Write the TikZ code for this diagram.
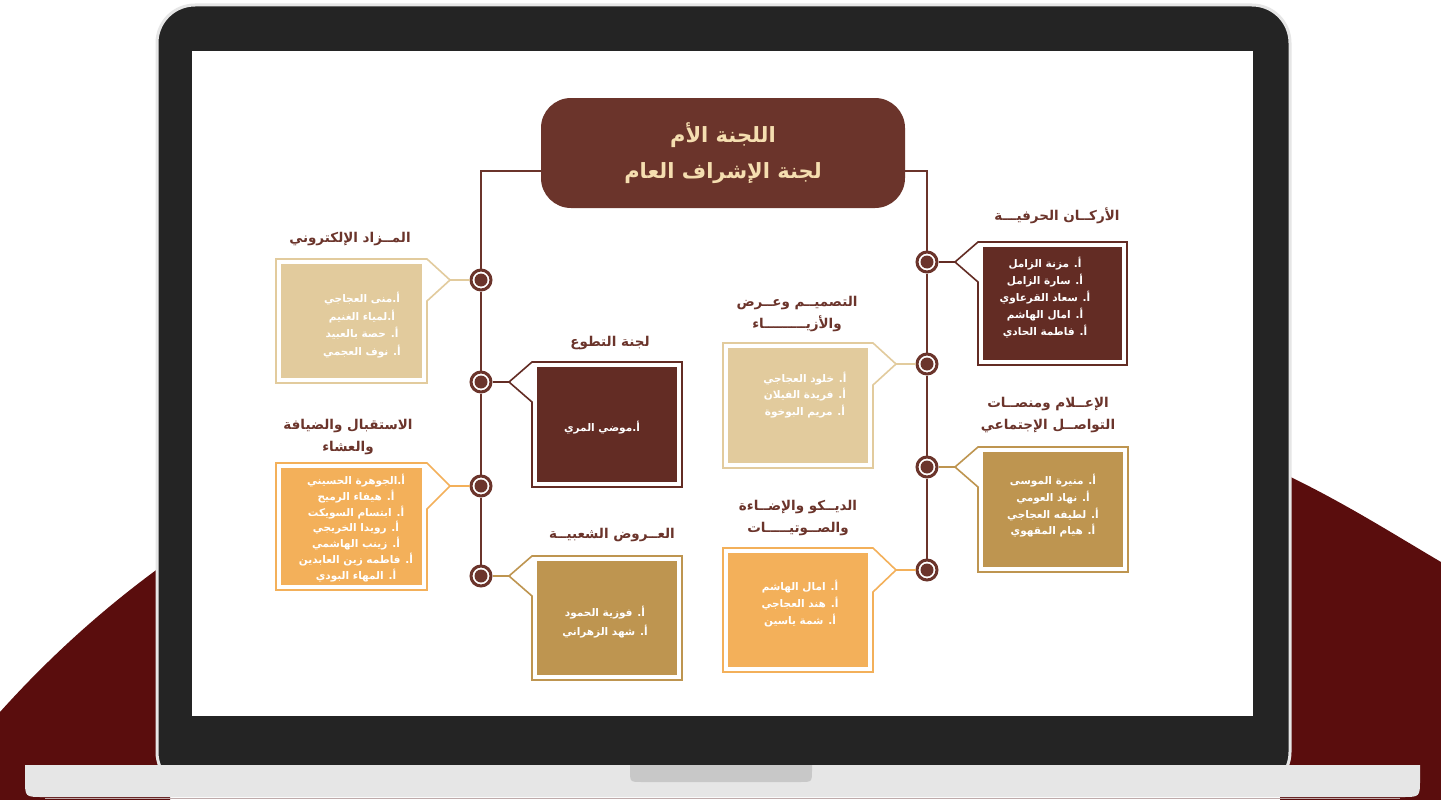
\documentclass[tikz,border=0pt]{standalone}
\usepackage{fontspec}
\newfontfamily\arabicfont[Script=Arabic]{DejaVu Sans}
\TeXXeTstate=1
\newcommand\rtxt[1]{\beginR #1\endR}
\definecolor{brn}{RGB}{107,52,43}
\definecolor{dbrn}{RGB}{99,44,36}
\definecolor{beige}{RGB}{226,203,157}
\definecolor{orng}{RGB}{243,176,90}
\definecolor{gold}{RGB}{190,149,80}
\definecolor{cream}{RGB}{245,222,176}
\definecolor{bgred}{RGB}{90,13,13}
\definecolor{bez}{RGB}{36,36,36}
\definecolor{basec}{RGB}{230,230,230}
\definecolor{notchc}{RGB}{200,200,200}
\tikzset{
  ttl/.style={font=\arabicfont\bfseries\fontsize{13.5}{22}\selectfont, text=brn, align=center, inner sep=0pt},
  names/.style={font=\arabicfont\bfseries\fontsize{10.5}{#1}\selectfont, text=white, align=center, inner sep=0pt},
  dot/.style={circle, draw=brn, line width=3pt, fill=white, minimum size=20pt, inner sep=0pt,
    path picture={\fill[brn] (path picture bounding box.center) circle (6.5pt);}},
  lnk/.style={line width=2.2pt, draw=brn},
  frame/.style={line width=1.6pt, draw=#1},
  hdrbox/.style={rounded corners=30pt, fill=brn, minimum width=364pt, minimum height=110pt,
    text=cream, align=center, font=\arabicfont\bfseries\fontsize{21}{36}\selectfont}
}
% callout with notch on its right side: colour, xl, xr, top, bottom, circle y, tip name
\newcommand\calloutL[7]{%
  \draw[frame=#1] (#2,#4) -- (#3,#4) -- (#3+23,#6) -- (#3,2*#6-#4) -- (#3,#5) -- (#2,#5) -- cycle;
  \fill[#1] (#2+5,#4+5) rectangle (#3-5,#5-5);
  \coordinate (#7) at (#3+23,#6);}
% callout with notch on its left side
\newcommand\calloutR[7]{%
  \draw[frame=#1] (#2,#4) -- (#3,#4) -- (#3,#5) -- (#2,#5) -- (#2,2*#6-#4) -- (#2-23,#6) -- cycle;
  \fill[#1] (#2+5,#4+5) rectangle (#3-5,#5-5);
  \coordinate (#7) at (#2-23,#6);}
\begin{document}
\begin{tikzpicture}[x=1pt,y=-1pt]
\useasboundingbox (0,0) rectangle (1441,800);
\fill[white] (0,0) rectangle (1441,800);
% red background shapes
\fill[bgred] (0,800) -- (0,712) .. controls (45,662) and (100,610) .. (170,560) -- (170,800) -- cycle;
\fill[bgred] (1280,472) .. controls (1340,500) and (1395,535) .. (1441,562) -- (1441,800) -- (1280,800) -- cycle;
% laptop
\draw[basec, line width=3pt, fill=bez, rounded corners=38pt] (157,5) rectangle (1290,790);
\fill[basec] (25,765) -- (1420,765) -- (1420,779) .. controls (1420,797) .. (1402,797) -- (43,797) .. controls (25,797) .. (25,779) -- cycle;
\draw[line width=1pt, color={rgb,255:red,190;green,170;blue,170}] (45,798.5) -- (1400,798.5);
\fill[notchc] (630,765) -- (812,765) -- (812,770) .. controls (812,782) .. (800,782) -- (642,782) .. controls (630,782) .. (630,770) -- cycle;
\fill[white] (192,51) rectangle (1253,716);

% header
\node[hdrbox] (hdr) at (723,153) {\rtxt{اللجنة الأم}\\\rtxt{لجنة الإشراف العام}};
\coordinate (hL) at (541,171);
\coordinate (kL) at (481,171);
\coordinate (hR) at (905,171);
\coordinate (kR) at (927,171);

% callout boxes
\calloutL{beige}{276}{427}{259}{383}{280}{L1t}
\calloutR{dbrn}{532}{682}{362}{487}{382}{L2t}
\calloutL{orng}{276}{427}{463}{590}{486}{L3t}
\calloutR{gold}{532}{682}{556}{680}{576}{L4t}
\calloutR{dbrn}{978}{1127}{242}{365}{262}{R1t}
\calloutL{beige}{723}{873}{343}{468}{364}{R2t}
\calloutR{gold}{978}{1128}{447}{572}{467}{R3t}
\calloutL{orng}{723}{873}{548}{672}{570}{R4t}

% circles
\node[dot] (L1c) at (481,280) {};
\node[dot] (L2c) at (481,382) {};
\node[dot] (L3c) at (481,486) {};
\node[dot] (L4c) at (481,576) {};
\node[dot] (R1c) at (927,262) {};
\node[dot] (R2c) at (927,364) {};
\node[dot] (R3c) at (927,467) {};
\node[dot] (R4c) at (927,570) {};

% trunks
\draw[lnk] (hL) -- (kL) -- (L1c);
\draw[lnk] (L1c) -- (L2c);
\draw[lnk] (L2c) -- (L3c);
\draw[lnk] (L3c) -- (L4c);
\draw[lnk] (hR) -- (kR) -- (R1c);
\draw[lnk] (R1c) -- (R2c);
\draw[lnk] (R2c) -- (R3c);
\draw[lnk] (R3c) -- (R4c);
% pointers
\draw[line width=2pt, beige] (L1t) -- (L1c);
\draw[line width=2pt, dbrn] (L2t) -- (L2c);
\draw[line width=2pt, orng] (L3t) -- (L3c);
\draw[line width=2pt, gold] (L4t) -- (L4c);
\draw[line width=2pt, dbrn] (R1t) -- (R1c);
\draw[line width=2pt, beige] (R2t) -- (R2c);
\draw[line width=2pt, gold] (R3t) -- (R3c);
\draw[line width=2pt, orng] (R4t) -- (R4c);

% titles
\node[ttl] (L1h) at (350,239) {\rtxt{المــزاد الإلكتروني}};
\node[ttl] (L2h) at (610,343) {\rtxt{لجنة التطوع}};
\node[ttl] (L3h) at (348,437) {\rtxt{الاستقبال والضيافة}\\\rtxt{والعشاء}};
\node[ttl] (L4h) at (612,535) {\rtxt{العــروض الشعبيــة}};
\node[ttl] (R1h) at (1057,216) {\rtxt{الأركــان الحرفيـــة}};
\node[ttl] (R2h) at (797,314) {\rtxt{التصميــم وعــرض}\\\rtxt{والأزيـــــــــاء}};
\node[ttl] (R3h) at (1048,415) {\rtxt{الإعــلام ومنصــات}\\\rtxt{التواصــل الإجتماعي}};
\node[ttl] (R4h) at (798,518) {\rtxt{الديــكو والإضــاءة}\\\rtxt{والصــوتيـــــات}};

% names
\node[names=17.5] (L1n) at (362,325) {\rtxt{أ.منى العجاجي}\\\rtxt{أ.لمياء الغنيم}\\\rtxt{أ. حصة بالعبيد}\\\rtxt{أ. نوف العجمي}};
\node[names=17] (L2n) at (602,428) {\rtxt{أ.موضي المري}};
\node[names=15.7] (L3n) at (356,528) {\rtxt{أ.الجوهرة الحسيني}\\\rtxt{أ. هيفاء الرميح}\\\rtxt{أ. ابتسام السويكت}\\\rtxt{أ. رويدا الخريجي}\\\rtxt{أ. زينب الهاشمي}\\\rtxt{أ. فاطمه زين العابدين}\\\rtxt{أ. المهاء البودي}};
\node[names=19] (L4n) at (605,622) {\rtxt{أ. فوزية الحمود}\\\rtxt{أ. شهد الزهراني}};
\node[names=17] (R1n) at (1045,298) {\rtxt{أ. مزنة الزامل}\\\rtxt{أ. سارة الزامل}\\\rtxt{أ. سعاد القرعاوي}\\\rtxt{أ. امال الهاشم}\\\rtxt{أ. فاطمة الحادي}};
\node[names=16.5] (R2n) at (805,395) {\rtxt{أ. خلود العجاجي}\\\rtxt{أ. فريدة الفيلان}\\\rtxt{أ. مريم البوخوة}};
\node[names=16.7] (R3n) at (1053,506) {\rtxt{أ. منيرة الموسى}\\\rtxt{أ. نهاد العومي}\\\rtxt{أ. لطيفه العجاجي}\\\rtxt{أ. هيام المقهوي}};
\node[names=17] (R4n) at (800,604) {\rtxt{أ. امال الهاشم}\\\rtxt{أ. هند العجاجي}\\\rtxt{أ. شمة ياسين}};
\end{tikzpicture}
\end{document}
